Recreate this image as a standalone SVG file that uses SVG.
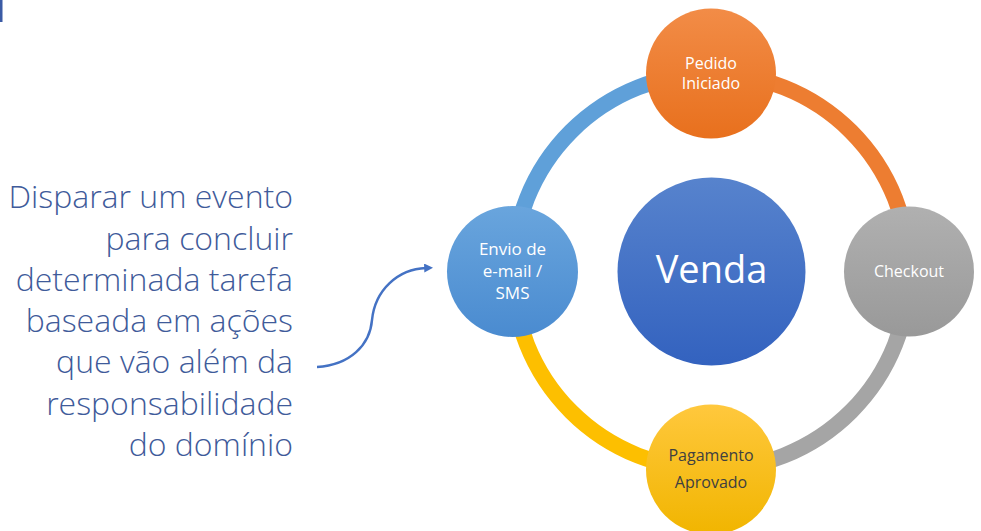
<svg xmlns="http://www.w3.org/2000/svg" width="981" height="531" viewBox="0 0 981 531">
<defs>
<linearGradient id="gBlue" x1="0" y1="0" x2="0" y2="1"><stop offset="0" stop-color="#69a5dd"/><stop offset="1" stop-color="#4a8bd0"/></linearGradient>
<linearGradient id="gOrange" x1="0" y1="0" x2="0" y2="1"><stop offset="0" stop-color="#f28c47"/><stop offset="1" stop-color="#e8701d"/></linearGradient>
<linearGradient id="gGray" x1="0" y1="0" x2="0" y2="1"><stop offset="0" stop-color="#b0b0b0"/><stop offset="1" stop-color="#999999"/></linearGradient>
<linearGradient id="gYellow" x1="0" y1="0" x2="0" y2="1"><stop offset="0" stop-color="#ffc83d"/><stop offset="1" stop-color="#f1b500"/></linearGradient>
<linearGradient id="gVenda" x1="0" y1="0" x2="0" y2="1"><stop offset="0" stop-color="#5783cd"/><stop offset="1" stop-color="#3362bf"/></linearGradient>
<marker id="arrow" viewBox="0 0 10 10" refX="2" refY="5" markerWidth="3.6" markerHeight="3.6" orient="auto" markerUnits="strokeWidth">
<path d="M0,0 L10,5 L0,10 z" fill="#4472c4"/>
</marker>
</defs>
<style>
.ring{fill:none;stroke-width:16}
.lbl{font-family:"Open Sans","Liberation Sans",sans-serif;font-size:16px;fill:#ffffff;text-anchor:middle}
.side{font-family:"Open Sans","Liberation Sans",sans-serif;font-weight:300;font-size:32px;fill:#3f5b9a;text-anchor:end}
</style>
<rect x="0" y="0" width="2.5" height="22" fill="#3b5ba5"/>
<g id="connectors">
<path class="ring" stroke="#5fa0d9" d="M513,271.5 A198,198 0 0 1 711,73.5"/>
<path class="ring" stroke="#ed7d31" d="M711,73.5 A198,198 0 0 1 909,271.5"/>
<path class="ring" stroke="#a5a5a5" d="M909,271.5 A198,198 0 0 1 711,469.5"/>
<path class="ring" stroke="#fdbf00" d="M711,469.5 A198,198 0 0 1 513,271.5"/>
<path d="M317,367 C350,365 370,345 372,320 C375,290 398,269 426,268" fill="none" stroke="#4472c4" stroke-width="2.5" marker-end="url(#arrow)"/>
</g>
<g id="venda">
<circle cx="711.5" cy="271.5" r="94" fill="url(#gVenda)"/>
<text class="lbl" x="711.5" y="283" style="font-size:38px">Venda</text>
</g>
<g id="pedido">
<circle cx="711" cy="73.5" r="65" fill="url(#gOrange)"/>
<text class="lbl" x="711" y="69">Pedido</text>
<text class="lbl" x="711" y="89">Iniciado</text>
</g>
<g id="checkout">
<circle cx="909" cy="271.5" r="65" fill="url(#gGray)"/>
<text class="lbl" x="909" y="277">Checkout</text>
</g>
<g id="pagamento">
<circle cx="711" cy="469.5" r="65" fill="url(#gYellow)"/>
<text class="lbl" x="711" y="461" style="fill:#404040">Pagamento</text>
<text class="lbl" x="711" y="488" style="fill:#404040">Aprovado</text>
</g>
<g id="envio">
<circle cx="512.5" cy="271.5" r="65.5" fill="url(#gBlue)"/>
<text class="lbl" x="512.5" y="255" style="font-size:17px">Envio de</text>
<text class="lbl" x="512.5" y="277" style="font-size:17px">e-mail /</text>
<text class="lbl" x="512.5" y="299" style="font-size:17px">SMS</text>
</g>
<g id="side-text">
<text class="side" x="293" y="208">Disparar um evento</text>
<text class="side" x="293" y="249.5">para concluir</text>
<text class="side" x="293" y="291">determinada tarefa</text>
<text class="side" x="293" y="332">baseada em ações</text>
<text class="side" x="293" y="373">que vão além da</text>
<text class="side" x="293" y="414.5">responsabilidade</text>
<text class="side" x="293" y="456">do domínio</text>
</g>
</svg>
